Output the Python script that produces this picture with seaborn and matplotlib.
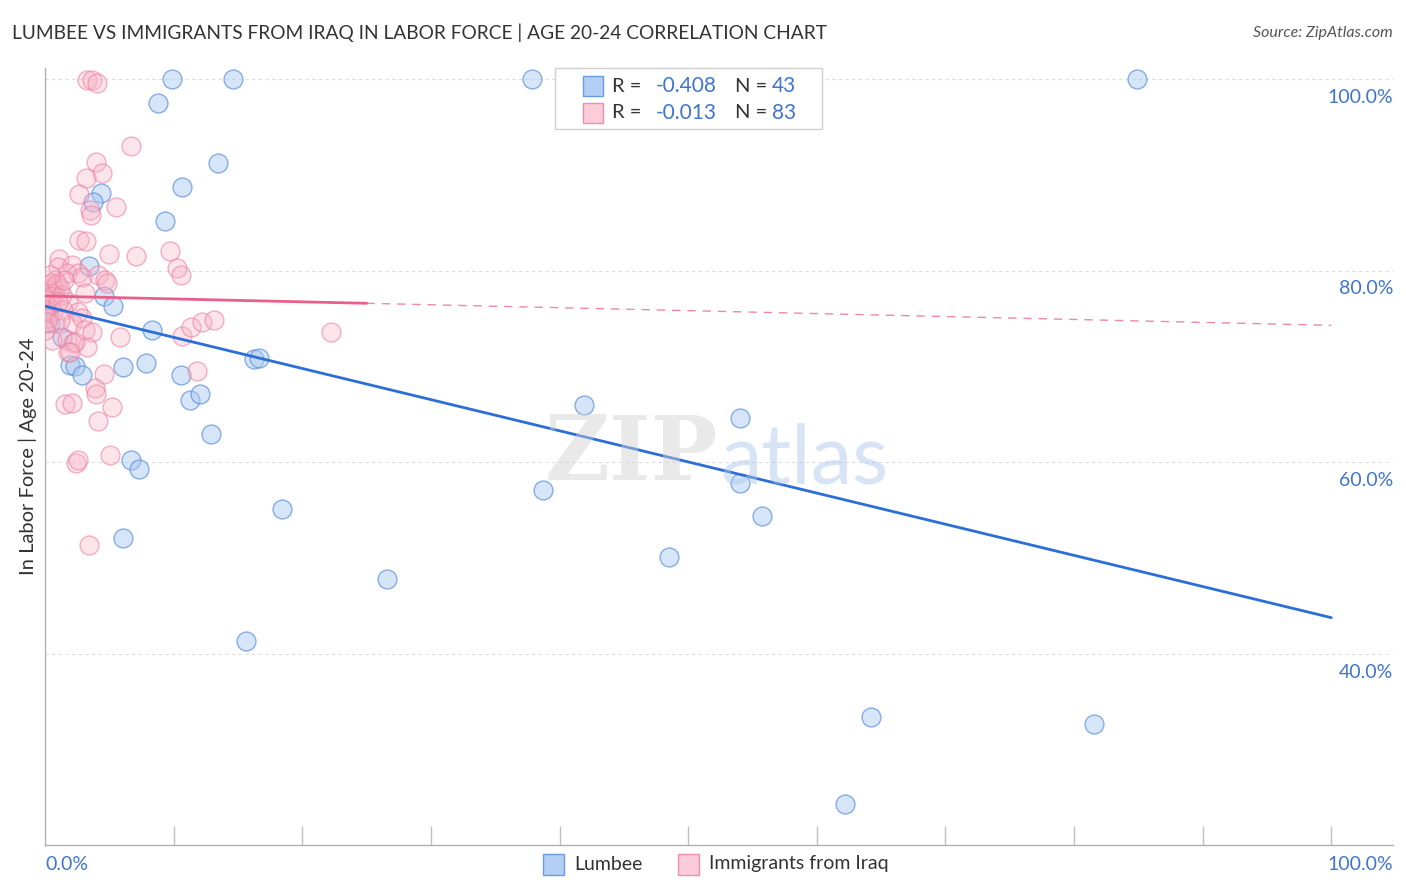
import matplotlib
matplotlib.use("Agg")
import matplotlib.pyplot as plt
import seaborn as sns
import pandas as pd
from matplotlib.patches import Rectangle

# ---------------- data ----------------
lumbee_x = [9.88, 14.62, 37.87, 84.91, 8.79, 13.45, 10.65, 4.35, 3.73, 9.33,
            3.42, 4.59, 5.29, 8.32, 1.32, 0.39, 1.94, 2.33, 2.88, 6.07,
            7.85, 10.58, 11.28, 12.05, 12.91, 16.25, 16.64, 6.69, 7.31, 6.07,
            18.43, 26.59, 15.63, 38.72, 41.91, 54.04, 54.04, 55.75, 48.52, 64.23,
            81.57, 62.21, 0.23]
lumbee_y = [100.0, 100.0, 100.0, 100.0, 97.50, 91.24, 88.73, 88.11, 87.17, 85.19,
            80.49, 77.36, 76.32, 73.81, 73.08, 74.54, 70.16, 70.06, 69.12, 69.95,
            70.37, 69.12, 66.51, 67.14, 62.96, 70.79, 70.89, 60.25, 59.31, 52.11,
            55.14, 47.84, 41.37, 57.12, 65.99, 64.63, 57.85, 54.41, 50.13, 33.44,
            32.71, 24.36, 75.69]

iraq_x = [3.27, 3.65, 4.04, 6.69, 3.97, 4.43, 3.19, 2.64, 5.52, 3.50,
          3.58, 2.64, 3.19, 4.98, 7.08, 9.72, 10.26, 10.58, 1.09, 1.01,
          2.10, 1.71, 2.57, 0.78, 0.62, 1.17, 2.88, 3.11, 4.12, 4.67,
          4.82, 0.78, 0.39, 1.79, 0.62, 2.57, 2.10, 2.88, 0.78, 3.11,
          3.65, 0.54, 1.71, 2.18, 1.79, 3.27, 5.83, 10.65, 11.35, 12.21,
          13.14, 22.24, 11.82, 4.59, 3.89, 3.97, 1.56, 2.10, 5.21, 4.12,
          2.41, 2.57, 5.05, 3.42, 2.33, 1.94, 0.16, 0.31, 0.47, 0.08,
          0.23, 0.54, 0.93, 1.32, 1.48, 0.39, 0.08, 0.23, 1.40, 1.01,
          0.00, 0.16, 1.17]
iraq_y = [99.90, 99.90, 99.58, 93.01, 91.34, 90.19, 89.67, 88.00, 86.65, 86.33,
          85.81, 83.20, 83.10, 81.74, 81.53, 82.06, 80.28, 79.55, 81.22, 80.39,
          80.59, 79.76, 79.76, 79.03, 78.30, 78.19, 79.34, 77.67, 79.55, 79.03,
          78.72, 77.46, 76.63, 76.73, 75.69, 75.69, 74.54, 75.07, 74.54, 73.81,
          73.60, 72.77, 72.77, 72.46, 71.52, 72.04, 73.08, 73.19, 74.13, 74.65,
          74.86, 73.60, 69.54, 69.22, 67.76, 67.14, 66.09, 66.20, 65.78, 64.32,
          59.94, 60.25, 60.77, 51.38, 72.56, 71.52, 78.51, 77.99, 78.72, 77.46,
          76.94, 77.36, 78.61, 77.46, 79.03, 79.55, 75.90, 75.07, 75.90, 76.73,
          73.81, 74.65, 74.86]

trend_x = [0, 100]
lumbee_trend = [76.3, 43.8]
iraq_trend_solid_x = [0, 25]
iraq_trend_solid = [77.36, 76.6]
iraq_trend_dash_x = [25, 100]
iraq_trend_dash = [76.6, 74.3]

legend_rows = [("-0.408", "43"), ("-0.013", "83")]
series_names = ["Lumbee", "Immigrants from Iraq"]
y_ticks = [100, 80, 60, 40]
y_tick_labels = ["100.0%", "80.0%", "60.0%", "40.0%"]

# ---------------- style ----------------
sns.set_theme(style="white")
plt.rcParams['font.family'] = ['Lato', 'DejaVu Sans']

BLUE_FILL = (0.66, 0.78, 0.94, 0.45)
BLUE_EDGE = (0.36, 0.56, 0.86, 0.7)
PINK_FILL = (0.97, 0.70, 0.78, 0.35)
PINK_EDGE = (0.92, 0.50, 0.63, 0.6)
BLUE_LINE = "#2b6fd6"
PINK_LINE = "#e8608a"
TICK_BLUE = "#3f74d0"

fig = plt.figure(figsize=(14.06, 8.92), dpi=100)
ax = fig.add_axes([45/1406, 1-845/892, (1393-45)/1406, (845-68)/892])

ax.set_xlim(0, 104.8)
ax.set_ylim(20.08, 101.15)

# grid
for yv in y_ticks:
    ax.axhline(yv, color="#dddddd", lw=0.8, ls=(0, (3, 3)), zorder=0)

sns.scatterplot(x=lumbee_x, y=lumbee_y, ax=ax, s=185, color=BLUE_FILL,
                edgecolor=BLUE_EDGE, linewidth=1.0, zorder=3)
sns.scatterplot(x=iraq_x, y=iraq_y, ax=ax, s=185, color=PINK_FILL,
                edgecolor=PINK_EDGE, linewidth=1.0, zorder=3)

sns.lineplot(x=trend_x, y=lumbee_trend, ax=ax, color=BLUE_LINE, lw=2.0, zorder=4)
sns.lineplot(x=iraq_trend_solid_x, y=iraq_trend_solid, ax=ax, color=PINK_LINE, lw=2.0, zorder=4)
sns.lineplot(x=iraq_trend_dash_x, y=iraq_trend_dash, ax=ax, color=PINK_LINE, lw=1.0,
             ls=(0, (6, 5)), alpha=0.75, zorder=4)

# spines / ticks
for s in ["top", "right"]:
    ax.spines[s].set_visible(False)
ax.spines["left"].set_color("#b0b0b0")
ax.spines["bottom"].set_color("#b0b0b0")
ax.spines["left"].set_linewidth(1.0)
ax.spines["bottom"].set_linewidth(1.0)
ax.set_xticks([10, 20, 30, 40, 50, 60, 70, 80, 90, 100])
ax.set_xticklabels([])
ax.tick_params(axis="x", direction="in", length=14, width=1.0, color="#c0c0c0", bottom=True)
ax.set_yticks([])
ax.set_xlabel("")
ax.set_ylabel("In Labor Force | Age 20-24", fontsize=14.5, color="#333333", labelpad=6)

# y tick labels on right
for yv, lab in zip(y_ticks, y_tick_labels):
    ax.annotate(lab, xy=(1.0, yv), xycoords=("axes fraction", "data"),
                xytext=(0, -18), textcoords="offset pixels",
                ha="right", va="center", fontsize=14, color=TICK_BLUE)

# x labels
fig.text(45/1406, 1-864/892, "0.0%", ha="left", va="center", fontsize=14, color=TICK_BLUE)
fig.text(1393/1406, 1-864/892, "100.0%", ha="right", va="center", fontsize=14, color=TICK_BLUE)

# title & source
fig.text(12/1406, 1-33/892, "LUMBEE VS IMMIGRANTS FROM IRAQ IN LABOR FORCE | AGE 20-24 CORRELATION CHART",
         ha="left", va="center", fontsize=13.8, color="#333333")
fig.text(1393/1406, 1-33/892, "Source: ZipAtlas.com", ha="right", va="center",
         fontsize=11.5, color="#555555", style="italic")

# watermark
fig.text(718/1406, 1-455/892, "ZIP", ha="right", va="center", fontsize=64,
         color="#d0d0d0", alpha=0.45, family="DejaVu Serif", fontweight="bold")
fig.text(720/1406, 1-460/892, "atlas", ha="left", va="center", fontsize=60,
         color="#a8c4ec", alpha=0.45)

# top legend box
fig.patches.append(Rectangle((555/1406, 1-129/892), (822-555)/1406, (129-68)/892,
                             transform=fig.transFigure, facecolor="white",
                             edgecolor="#d0d0d0", lw=1.0, zorder=10))
fills = [(0.70, 0.81, 0.96, 1.0), (0.99, 0.80, 0.86, 1.0)]
edges = ["#6a9be0", "#ec8fab"]
for i, (r, n) in enumerate(legend_rows):
    yc = 86 + i * 27
    fig.patches.append(Rectangle((583/1406, 1-(yc+10)/892), 20/1406, 20/892,
                                 transform=fig.transFigure, facecolor=fills[i],
                                 edgecolor=edges[i], lw=1.0, zorder=11))
    fig.text(612/1406, 1-yc/892, "R = ", ha="left", va="center", fontsize=14.5, color="#333333", zorder=12)
    fig.text(717/1406, 1-yc/892, r, ha="right", va="center", fontsize=15, color=TICK_BLUE, zorder=12)
    fig.text(735/1406, 1-yc/892, "N = ", ha="left", va="center", fontsize=14.5, color="#333333", zorder=12)
    fig.text(772/1406, 1-yc/892, n, ha="left", va="center", fontsize=15, color=TICK_BLUE, zorder=12)

# bottom legend
for i, (name, xp) in enumerate(zip(series_names, [543, 678])):
    fig.patches.append(Rectangle((xp/1406, 1-875/892), 21/1406, 21/892,
                                 transform=fig.transFigure, facecolor=fills[i],
                                 edgecolor=edges[i], lw=1.0))
    fig.text((xp+31)/1406, 1-864/892, name, ha="left", va="center", fontsize=14, color="#333333")

fig.savefig("out.png", dpi=100)
